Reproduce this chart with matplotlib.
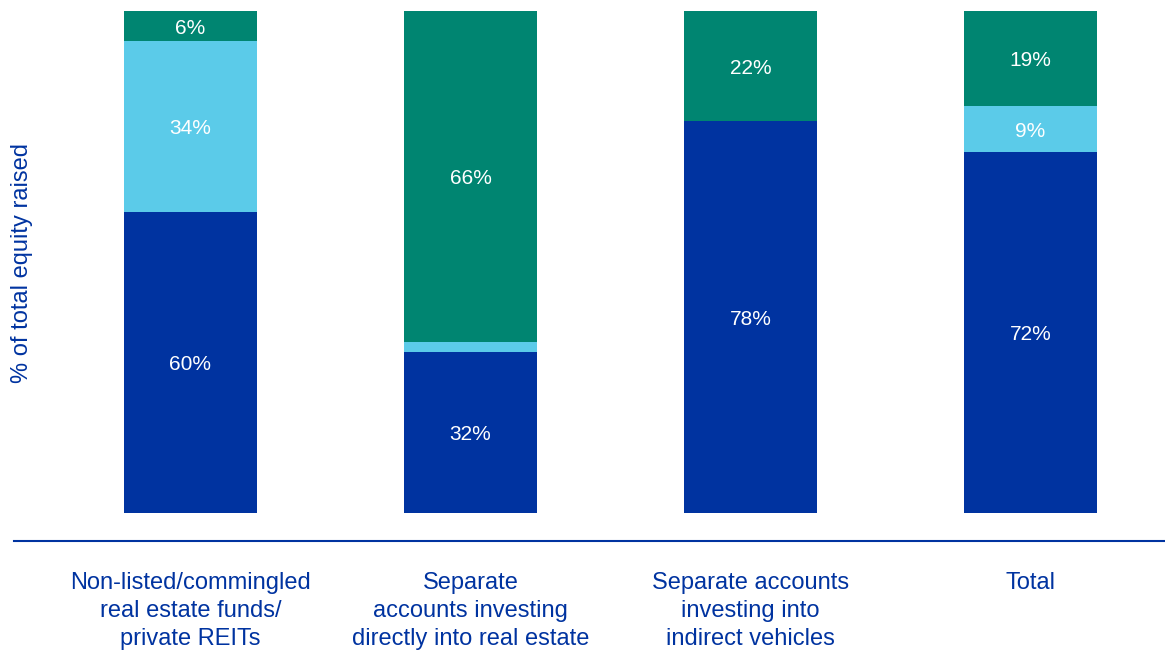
import matplotlib
matplotlib.use("Agg")
import matplotlib.pyplot as plt
import numpy as np

plt.rcParams['font.family'] = ['Liberation Sans', 'DejaVu Sans']

categories = [
    "Non-listed/commingled\nreal estate funds/\nprivate REITs",
    "Separate\naccounts investing\ndirectly into real estate",
    "Separate accounts\ninvesting into\nindirect vehicles",
    "Total",
]
bottom_share = [60, 32, 78, 72]   # dark blue segment
middle_share = [34, 2, 0, 9]      # light blue segment
top_share = [6, 66, 22, 19]       # teal segment

dark_blue = "#0033A0"
light_blue = "#5BCBE9"
teal = "#008571"
text_blue = "#0033A0"

fig = plt.figure(figsize=(11.65, 6.53), dpi=100)
ax = fig.add_axes([14 / 1165, (653 - 541) / 653, 1 - 14 / 1165, 541 / 653])

x = np.arange(len(categories))
width = 0.475
b = np.array(bottom_share, dtype=float)
m = np.array(middle_share, dtype=float)
t = np.array(top_share, dtype=float)

ax.bar(x, b, width, color=dark_blue, linewidth=0)
ax.bar(x, m, width, bottom=b, color=light_blue, linewidth=0)
ax.bar(x, t, width, bottom=b + m, color=teal, linewidth=0)

label_min = 5
for i in range(len(x)):
    segments = [(b[i], 0), (m[i], b[i]), (t[i], b[i] + m[i])]
    for val, base in segments:
        if val >= label_min:
            ax.text(x[i], base + val / 2, f"{val:.0f}%", ha="center",
                    va="center_baseline", color="white", fontsize=15)

ax.set_xlim(-0.63, 3.48)
ax.set_ylim(-5.58, 102.2)

for side in ("top", "right", "left"):
    ax.spines[side].set_visible(False)
ax.spines["bottom"].set_color(dark_blue)
ax.spines["bottom"].set_linewidth(1.5)

ax.set_yticks([])
ax.set_xticks(x)
ax.set_xticklabels(categories, fontsize=17, color=text_blue, linespacing=1.36)
ax.tick_params(axis="x", length=0, pad=22)

fig.text(22 / 1165, 1 - 263 / 653, "% of total equity raised", rotation=90,
         ha="center", va="center", color=text_blue, fontsize=17)

fig.savefig("out.png", dpi=100)
